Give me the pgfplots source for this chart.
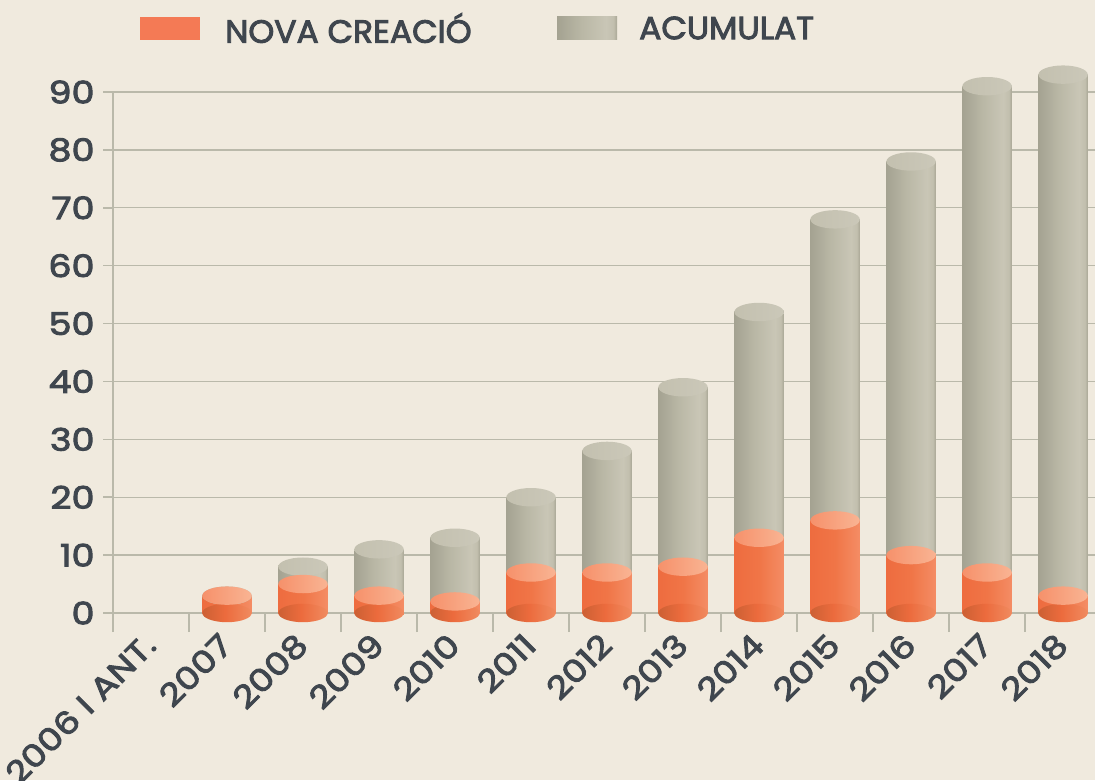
\documentclass[border=0pt]{standalone}
\usepackage{fontspec}
\usepackage{pgfplots}
\usepackage{pgfplotstable}
\pgfplotsset{compat=1.18}
\newfontfamily\tickfont{Poppins}[FakeBold=3,FakeStretch=1.18]
\newfontfamily\legfont{Poppins}[FakeBold=3,FakeStretch=1.03]
\definecolor{bg}{HTML}{F0EADE}
\definecolor{txt}{HTML}{3F464E}
\definecolor{gridc}{HTML}{BAB9AA}
\definecolor{swor}{HTML}{F47A55}
% gray body
\definecolor{g1}{HTML}{A4A291}
\definecolor{g2}{HTML}{B9B7A5}
\definecolor{g3}{HTML}{C9C6B6}
\definecolor{g4}{HTML}{C2BFAE}
\definecolor{g5}{HTML}{A9A796}
\pgfdeclarehorizontalshading{grayshade}{100bp}{color(0bp)=(g1); color(25bp)=(g1); color(45bp)=(g2); color(66bp)=(g3); color(72bp)=(g4); color(75bp)=(g5); color(100bp)=(g5)}
\definecolor{gt1}{HTML}{C3C0AF}
\definecolor{gt2}{HTML}{CBC8B9}
\pgfdeclarehorizontalshading{gtopshade}{100bp}{color(0bp)=(gt1); color(25bp)=(gt1); color(75bp)=(gt2); color(100bp)=(gt2)}
% orange body
\definecolor{o1}{HTML}{EE6C3F}
\definecolor{o2}{HTML}{F07547}
\definecolor{o3}{HTML}{F48D65}
\pgfdeclarehorizontalshading{orangeshade}{100bp}{color(0bp)=(o1); color(25bp)=(o1); color(50bp)=(o2); color(75bp)=(o3); color(100bp)=(o3)}
\definecolor{ot1}{HTML}{F6916B}
\definecolor{ot2}{HTML}{F9B493}
\pgfdeclarehorizontalshading{otopshade}{100bp}{color(0bp)=(ot1); color(25bp)=(ot1); color(75bp)=(ot2); color(100bp)=(ot2)}
\definecolor{ob1}{HTML}{CC6034}
\definecolor{ob2}{HTML}{EC6B3D}
\definecolor{ob3}{HTML}{F08B60}
\pgfdeclarehorizontalshading{obotshade}{100bp}{color(0bp)=(ob1); color(25bp)=(ob1); color(48bp)=(ob2); color(75bp)=(ob3); color(100bp)=(ob3)}
\pgfdeclareplotmark{gtop}{\pgfpathellipse{\pgfpointorigin}{\pgfqpoint{24.7pt}{0pt}}{\pgfqpoint{0pt}{9.2pt}}\pgfshadepath{gtopshade}{0}\pgfusepath{}}
\pgfdeclareplotmark{otop}{\pgfpathellipse{\pgfpointorigin}{\pgfqpoint{24.7pt}{0pt}}{\pgfqpoint{0pt}{9.2pt}}\pgfshadepath{otopshade}{0}\pgfusepath{}}
\pgfdeclareplotmark{obot}{\pgfpathellipse{\pgfpointorigin}{\pgfqpoint{24.7pt}{0pt}}{\pgfqpoint{0pt}{9.2pt}}\pgfshadepath{obotshade}{0}\pgfusepath{}}

\pgfplotstableread{
x base nova acum
1  0 3  3
2  0 5  8
3  0 3  11
4  0 2  13
5  0 7  20
6  0 7  28
7  0 8  39
8  0 13 52
9  0 16 68
10 0 10 78
11 0 7  91
12 0 3  93
}\datatable

\begin{document}
\begin{tikzpicture}[x=1pt,y=1pt]
\useasboundingbox (0,0) rectangle (1095,780);
\fill[bg] (0,0) rectangle (1095,780);
% legend
\fill[swor] (140,740) rectangle (200,763);
\node[anchor=west, inner sep=0pt, text=txt, font=\legfont\fontsize{32}{36}\selectfont] at (225,752) {NOVA CREACIÓ};
\shade[shading=grayshade] (557,740) rectangle (617,763);
\node[anchor=west, inner sep=0pt, text=txt, font=\legfont\fontsize{32}{36}\selectfont] at (639,752) {ACUMULAT};
\begin{axis}[
  at={(113pt,167pt)}, anchor=south west,
  scale only axis, width=982pt, height=521pt,
  xmin=-0.5, xmax=12.42, ymin=0, ymax=90,
  axis x line=bottom, axis y line=left,
  axis line style={-, draw=gridc, line width=1.6pt},
  tick align=outside,
  ytick={0,10,...,90},
  ytick style={/pgfplots/major tick length=10pt, draw=gridc, line width=1.6pt},
  xtick={-0.5,0.5,...,11.5},
  xtick style={/pgfplots/major tick length=19pt, draw=gridc, line width=1.6pt},
  xticklabels={2006 I ANT.,2007,2008,2009,2010,2011,2012,2013,2014,2015,2016,2017,2018},
  xticklabel style={xshift=37pt, yshift=-22pt, rotate=45, anchor=east, inner sep=0pt, text=txt, font=\tickfont\fontsize{31}{36}\selectfont},
  yticklabel style={anchor=east, inner sep=0pt, xshift=-14pt, text=txt, font=\tickfont\fontsize{31}{36}\selectfont, /pgf/number format/assume math mode=true},
  ymajorgrids, grid style={draw=gridc, line width=1.4pt},
  clip=false,
]
\pgfplotsinvokeforeach{1,...,12}{
  \addplot[ybar, bar width=0.65, bar shift=0pt, draw=none, shading=grayshade, restrict x to domain=#1:#1] table[x=x,y=acum]{\datatable};
}
\addplot[only marks, mark=gtop] table[x=x,y=acum]{\datatable};
\pgfplotsinvokeforeach{1,...,12}{
  \addplot[ybar, bar width=0.65, bar shift=0pt, draw=none, shading=orangeshade, restrict x to domain=#1:#1] table[x=x,y=nova]{\datatable};
}
\addplot[only marks, mark=obot] table[x=x,y=base]{\datatable};
\addplot[only marks, mark=otop] table[x=x,y=nova]{\datatable};
\end{axis}
\end{tikzpicture}
\end{document}
